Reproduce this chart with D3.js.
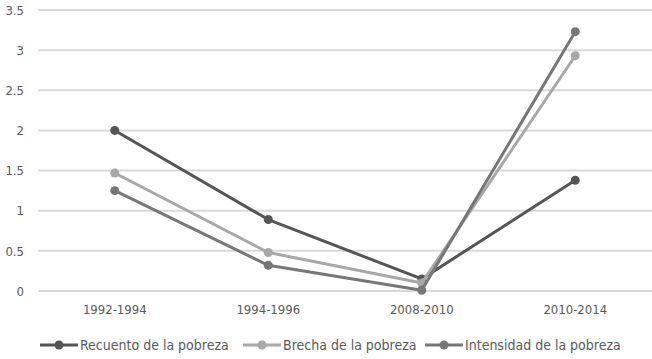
<!DOCTYPE html>
<html><head><meta charset="utf-8">
<script src="https://cdn.jsdelivr.net/npm/d3@7"></script>
<style>body{margin:0;background:#fff;} text{font-family:"Liberation Sans Narrow","DejaVu Sans Condensed",sans-serif;}</style>
</head><body><svg id="c" width="652" height="359"></svg>
<script>
const categories = ["1992-1994","1994-1996","2008-2010","2010-2014"];
const recuento = [2.0, 0.89, 0.15, 1.38];
const brecha = [1.47, 0.48, 0.10, 2.93];
const intensidad = [1.25, 0.32, 0.01, 3.23];
const yTicks = [0,0.5,1,1.5,2,2.5,3,3.5];
const seriesNames = ["Recuento de la pobreza","Brecha de la pobreza","Intensidad de la pobreza"];
const colors = ["#555555","#a8a8a8","#777777"];

const svg = d3.select("#c");
const x = d3.scaleBand().domain(categories).range([38,652]);
const y = d3.scaleLinear().domain([0,3.5]).range([291,10]);

// gridlines
svg.append("g").selectAll("line").data(yTicks).join("line")
  .attr("x1",38).attr("x2",652).attr("y1",d=>y(d)).attr("y2",d=>y(d))
  .attr("stroke","#d9d9d9").attr("stroke-width",2);

const yAxis = d3.axisLeft(y).tickValues(yTicks).tickSize(0).tickPadding(0).tickFormat(d=>String(d));
const ga = svg.append("g").attr("transform","translate(24,0)").call(yAxis);
ga.select(".domain").remove();
ga.selectAll("text").attr("font-size",13).attr("fill","#595959").attr("font-family","Liberation Sans Narrow, sans-serif");

const xAxis = d3.axisBottom(x).tickSize(0).tickPadding(0);
const gx = svg.append("g").attr("transform","translate(0,305)").call(xAxis);
gx.select(".domain").remove();
gx.selectAll("text").attr("font-size",13).attr("fill","#595959").attr("dy","0.71em").attr("font-family","Liberation Sans Narrow, sans-serif");

const data = [recuento, brecha, intensidad];
const line = d3.line().x((d,i)=>x(categories[i])+x.bandwidth()/2).y(d=>y(d));
data.forEach((s,k)=>{
  const g = svg.append("g");
  g.append("path").datum(s).attr("d",line).attr("fill","none").attr("stroke",colors[k]).attr("stroke-width",3).attr("stroke-linejoin","round");
  g.selectAll("circle").data(s).join("circle")
    .attr("cx",(d,i)=>x(categories[i])+x.bandwidth()/2).attr("cy",d=>y(d)).attr("r",4.5).attr("fill",colors[k]);
});

// legend
const legX = [40,243,425];
const lg = svg.append("g");
seriesNames.forEach((n,k)=>{
  const gx0 = legX[k];
  lg.append("line").attr("x1",gx0).attr("x2",gx0+38).attr("y1",345).attr("y2",345).attr("stroke",colors[k]).attr("stroke-width",3);
  lg.append("circle").attr("cx",gx0+19).attr("cy",345).attr("r",4.5).attr("fill",colors[k]);
  lg.append("text").attr("x",gx0+40).attr("y",345).attr("dy","0.35em").attr("font-size",14).attr("fill","#595959").text(n);
});
</script></body></html>
